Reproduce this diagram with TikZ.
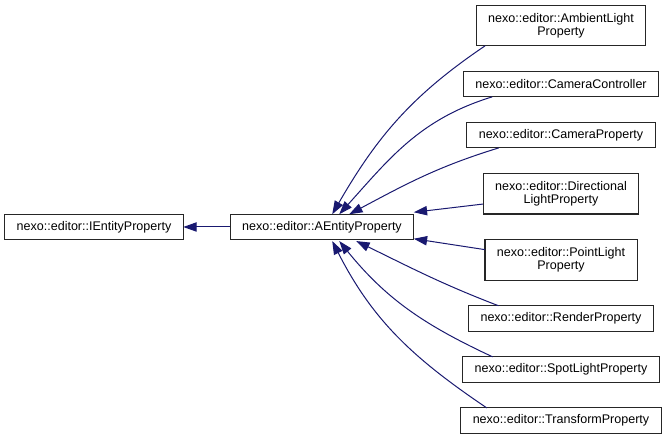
\documentclass[tikz,border=0pt]{standalone}
\usepackage{fontspec}
\setmainfont{Liberation Sans}
\usetikzlibrary{arrows.meta,positioning}
\definecolor{edgeblue}{HTML}{191970}

\begin{document}
\begin{tikzpicture}[
  x=0.75pt, y=0.75pt,
  font=\fontsize{9.4}{10}\selectfont,
  cls/.style={draw=black!85, line width=0.9pt, fill=white, inner xsep=9pt,
              inner ysep=0pt, outer sep=0pt, minimum height=19.1pt},
  cls2/.style={cls, align=center, minimum height=30.4pt},
  inh/.style={draw=edgeblue, line width=0.75pt, ->},
  >={Triangle[length=10pt,width=7pt]}, node distance=19.2pt
]
\useasboundingbox (0,0) rectangle (667,438);
\node[cls] (iep) at (94,211) {nexo::editor::IEntityProperty};
\node[cls] (aep) at (322,211) {nexo::editor::AEntityProperty};
\node[cls2] (amb) at (561,412.5) {nexo::editor::AmbientLight\\Property};
\node[cls, below=of amb] (ccon) {nexo::editor::CameraController};
\node[cls, below=of ccon] (cprop) {nexo::editor::CameraProperty};
\node[cls2, below=of cprop] (dir) {nexo::editor::Directional\\LightProperty};
\node[cls2, below=of dir] (ptl) {nexo::editor::PointLight\\Property};
\node[cls, below=of ptl] (rnd) {nexo::editor::RenderProperty};
\node[cls, below=of rnd] (spot) {nexo::editor::SpotLightProperty};
\node[cls, below=of spot] (trf) {nexo::editor::TransformProperty};
\draw[inh] (aep) -- (iep);
\draw[inh] ([xshift=6.75pt]amb.south west) to[out=214, in=60]
  ([xshift=76.5pt]aep.north west);
\draw[inh] ([xshift=21.75pt]ccon.south west) to[out=197, in=48]
  ([xshift=81.75pt]aep.north west);
\draw[inh] ([xshift=24pt]cprop.south west) to[out=197, in=28]
  ([xshift=89.25pt]aep.north west);
\draw[inh] ([yshift=7.5pt]dir.south west) -- ([yshift=1.5pt]aep.north east);
\draw[inh] ([yshift=-7.5pt]ptl.north west) -- ([yshift=0.75pt]aep.south east);
\draw[inh] ([xshift=22.5pt]rnd.north west) to[out=159, in=-26]
  ([xshift=94.5pt,yshift=-1pt]aep.south west);
\draw[inh] ([xshift=22.5pt]spot.north west) to[out=155, in=-51]
  ([xshift=81.75pt,yshift=-1pt]aep.south west);
\draw[inh] ([xshift=19.5pt]trf.north west) to[out=146, in=-63]
  ([xshift=76.5pt,yshift=-1pt]aep.south west);
\end{tikzpicture}
\end{document}
